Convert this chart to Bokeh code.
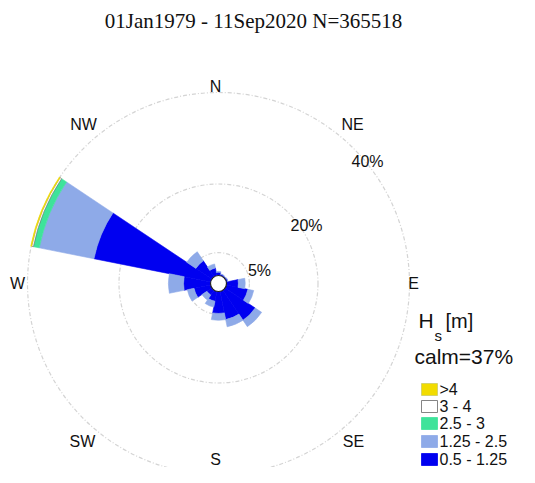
import numpy as np
from bokeh.plotting import figure
from bokeh.models import ColumnDataSource, Range1d
from bokeh.embed import file_html
from bokeh.resources import INLINE
from bokeh.core.properties import value

# ---------------- data ----------------
title_text = "01Jan1979 - 11Sep2020 N=365518"
directions = ["N", "NNE", "NE", "ENE", "E", "ESE", "SE", "SSE",
              "S", "SSW", "SW", "WSW", "W", "WNW", "NW", "NNW"]
bearings = [0.0, 22.5, 45.0, 67.5, 90.0, 112.5, 135.0, 157.5,
            180.0, 202.5, 225.0, 247.5, 270.0, 292.5, 315.0, 337.5]
# percent frequency per Hs bin (stacked)
hs_050_125 = [0.7, 0.3, 0.2, 0.3, 2.6, 4.8, 7.9, 6.3, 4.8, 2.2, 1.3, 3.7, 5.9, 26.0, 4.2, 1.7]
hs_125_250 = [0.2, 0.1, 0.1, 0.1, 1.5, 1.3, 1.7, 1.6, 1.5, 1.3, 1.3, 1.5, 3.3, 12.2, 2.4, 0.9]
hs_250_300 = [0.0, 0.0, 0.0, 0.0, 0.0, 0.0, 0.0, 0.0, 0.0, 0.0, 0.0, 0.0, 0.0, 1.3, 0.0, 0.0]
hs_300_400 = [0.0, 0.0, 0.0, 0.0, 0.0, 0.0, 0.0, 0.0, 0.0, 0.0, 0.0, 0.0, 0.0, 0.4, 0.0, 0.0]
hs_gt_400 = [0.0, 0.0, 0.0, 0.0, 0.0, 0.0, 0.0, 0.0, 0.0, 0.0, 0.0, 0.0, 0.0, 0.2, 0.0, 0.0]
bin_labels = ["0.5 - 1.25", "1.25 - 2.5", "2.5 - 3", "3 - 4", ">4"]
bin_colors = ["#0000f0", "#8eaae8", "#3ee39a", "#ffffff", "#f2dc00"]
calm_pct = 37
ring_pcts = [5, 20, 40]
ring_labels = ["5%", "20%", "40%"]

# ---------------- geometry ----------------
PX = 4.575            # pixels per percent
CX, CY = 218, 283     # pixel position of rose centre
R0 = 8 / PX           # calm circle radius (data units)
W, H = 519, 467

def to_data(px, py):
    return (px - CX) / PX, (CY - py) / PX

x0, y1 = to_data(0, 0)
x1, y0 = to_data(W, H)

p = figure(width=W, height=H, output_backend="svg", toolbar_location=None,
           x_range=Range1d(x0, x1), y_range=Range1d(y0, y1),
           min_border=0, min_border_left=0, min_border_right=0,
           min_border_top=0, min_border_bottom=0)
p.axis.visible = False
p.grid.visible = False
p.outline_line_color = None
p.background_fill_color = "white"
p.border_fill_color = "white"

# rings
ring_r = [R0 + r for r in ring_pcts]
p.circle(x=[0] * len(ring_r), y=[0] * len(ring_r), radius=ring_r,
         fill_color=None, line_color="#d4d4d4", line_width=1.2, line_dash="4 2 1 2")

# petals
bins = [hs_050_125, hs_125_250, hs_250_300, hs_300_400, hs_gt_400]
half = np.deg2rad(11.25)
b = np.deg2rad(np.array(bearings))
start = np.pi / 2 - b - half
end = np.pi / 2 - b + half
cum = np.zeros(len(directions))
for vals, col in zip(bins, bin_colors):
    v = np.array(vals)
    inner = R0 + cum
    outer = R0 + cum + v
    mask = v > 0
    src = ColumnDataSource(dict(x=np.zeros(mask.sum()), y=np.zeros(mask.sum()),
                                ri=inner[mask], ro=outer[mask],
                                sa=start[mask], ea=end[mask]))
    edge = "#666666" if col == "#ffffff" else col
    p.annular_wedge(x="x", y="y", inner_radius="ri", outer_radius="ro",
                    start_angle="sa", end_angle="ea", source=src,
                    fill_color=col, line_color=edge, line_width=0.6)
    cum = cum + v

# calm circle
p.circle(x=[0], y=[0], radius=[R0], fill_color="white", line_color="#222222", line_width=1.2)

# direction labels (pixel positions)
dir_lab = ["N", "NE", "E", "SE", "S", "SW", "W", "NW"]
dir_px = [(215, 86), (352, 124), (413, 283), (353, 441), (215, 459), (82, 441), (17, 283), (83, 124)]
dx, dy = zip(*[to_data(a, c) for a, c in dir_px])
p.text(x=list(dx), y=list(dy), text=dir_lab, text_font=value("Liberation Sans"),
       text_font_size="16px", text_align="center", text_baseline="middle", text_color="#111111")

# ring labels
ring_px = [(259, 270), (306, 225), (367, 161)]
rx, ry = zip(*[to_data(a, c) for a, c in ring_px])
p.text(x=list(rx), y=list(ry), text=ring_labels, text_font=value("Liberation Sans"),
       text_font_size="16px", text_align="center", text_baseline="middle", text_color="#111111")

# title
tx, ty = to_data(253, 20)
p.text(x=[tx], y=[ty], text=[title_text], text_font=value("Liberation Serif"),
       text_font_size="21px", text_align="center", text_baseline="middle", text_color="#111111")

# legend header
hx, hy = to_data(418, 320)
p.text(x=[hx], y=[hy], text=["H"], text_font=value("Liberation Sans"), text_font_size="21px",
       text_align="left", text_baseline="middle", text_color="#111111")
sx, sy = to_data(434, 335)
p.text(x=[sx], y=[sy], text=["s"], text_font=value("Liberation Sans"), text_font_size="15px",
       text_align="left", text_baseline="middle", text_color="#111111")
mx, my = to_data(445, 320)
p.text(x=[mx], y=[my], text=["[m]"], text_font=value("Liberation Sans"), text_font_size="20px",
       text_align="left", text_baseline="middle", text_color="#111111")
cxl, cyl = to_data(414, 356)
p.text(x=[cxl], y=[cyl], text=["calm=%d%%" % calm_pct], text_font=value("Liberation Sans"),
       text_font_size="21px", text_align="left", text_baseline="middle", text_color="#111111")

# legend entries (top: >4, bottom: 0.5 - 1.25)
row_py = [389, 406, 423, 441, 459]
leg_labels = bin_labels[::-1]
leg_colors = bin_colors[::-1]
bx0, _ = to_data(421, 0)
bx1, _ = to_data(437, 0)
box_x, box_y, box_w, box_h = [], [], [], []
for py in row_py:
    _, yy = to_data(0, py)
    box_x.append((bx0 + bx1) / 2)
    box_y.append(yy)
    box_w.append(bx1 - bx0)
    box_h.append(12 / PX)
p.rect(x=box_x, y=box_y, width=box_w, height=box_h, fill_color=leg_colors,
       line_color=["#cccc66", "#666666", "#3ee39a", "#8eaae8", "#0000f0"], line_width=0.8)
lx, _ = to_data(439, 0)
p.text(x=[lx] * len(row_py), y=box_y, text=leg_labels, text_font=value("Liberation Sans"),
       text_font_size="16px", text_align="left", text_baseline="middle", text_color="#111111")

open("out.html", "w").write(file_html(p, INLINE))
